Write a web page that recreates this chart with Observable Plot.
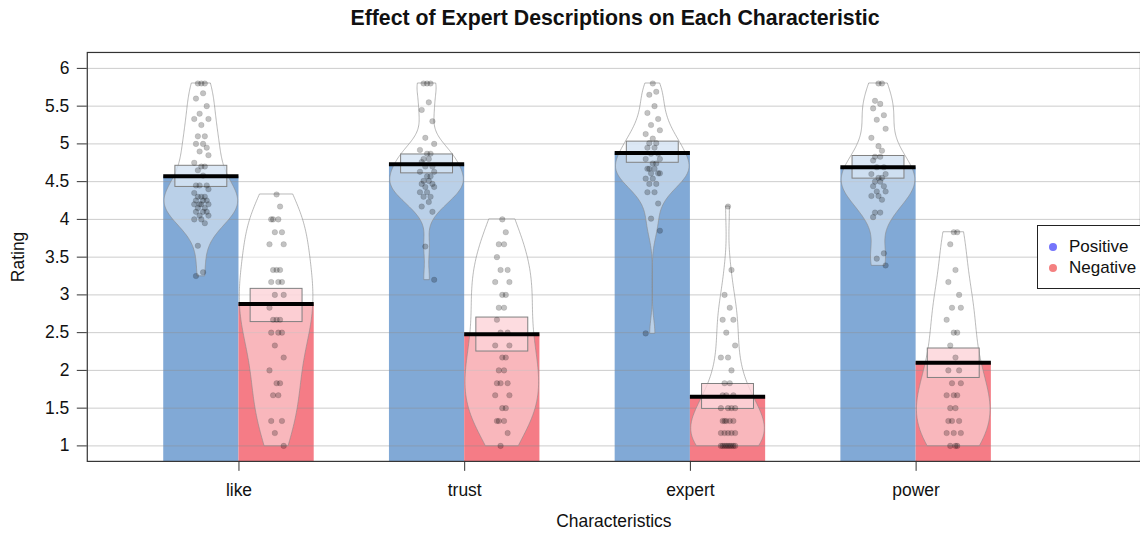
<!DOCTYPE html>
<html>
<head>
<meta charset="utf-8">
<script src="https://cdn.jsdelivr.net/npm/d3@7"></script>
<script src="https://cdn.jsdelivr.net/npm/@observablehq/plot@0.6"></script>
<style>
  html, body { margin: 0; padding: 0; background: #fff; overflow: hidden; }
  #wrap { position: relative; width: 1140px; height: 535px; overflow: hidden; font-family: "Liberation Sans", Arial, sans-serif; }
  #title { position: absolute; top: 0; left: 87px; width: 1056px; height: 40px; line-height: 37px; text-align: center; font-weight: bold; font-size: 21.3px; color: #111; }
  #chart { position: absolute; top: 40px; left: 0; }
  #legend { position: absolute; left: 1037px; top: 225px; width: 120px; height: 62px; border: 1px solid #222; background: #fff; font-size: 17px; color: #111; }
  #legend .row { position: absolute; left: 0; height: 20px; line-height: 20px; }
  #legend .dot { position: absolute; left: 11px; top: 6px; width: 8px; height: 8px; border-radius: 50%; }
  #legend .lab { position: absolute; left: 31px; top: 0; white-space: nowrap; }
</style>
</head>
<body>
<div id="wrap">
  <div id="title">Effect of Expert Descriptions on Each Characteristic</div>
  <div id="chart"></div>
  <div id="legend"></div>
</div>
<script>
// ---- data ----
const categories = ["like", "trust", "expert", "power"];
const conditions = ["Positive", "Negative"];
const barColors = ["#81a9d6", "#f57c86"];
const legendColors = ["#7474fb", "#f48080"];

const posMean = [4.57, 4.73, 4.88, 4.69];
const negMean = [2.88, 2.48, 1.65, 2.10];
const posLo = [4.43, 4.61, 4.75, 4.54];
const posHi = [4.71, 4.86, 5.03, 4.84];
const negLo = [2.64, 2.25, 1.49, 1.90];
const negHi = [3.08, 2.70, 1.82, 2.29];

const likePos = [5.8,5.8,5.8,5.67,5.6,5.5,5.4,5.33,5.33,5.25,5.1,5.1,5.0,5.0,4.95,4.9,4.85,4.75,4.7,4.7,4.65,4.58,
  4.45,4.45,4.45,4.4,4.35,4.3,4.3,4.3,4.25,4.25,4.25,4.2,4.2,4.2,4.2,4.15,4.15,4.1,4.1,4.1,4.05,4.05,4.0,4.0,3.95,3.65,3.3,3.25];
const likeNeg = [4.33,4.17,4.0,4.0,4.0,3.83,3.83,3.67,3.67,3.33,3.33,3.33,3.17,3.17,3.17,3.0,3.0,2.83,2.67,2.67,2.67,
  2.5,2.5,2.5,2.33,2.17,2.0,1.83,1.83,1.67,1.67,1.33,1.33,1.17,1.0];
const trustPos = [5.8,5.8,5.8,5.55,5.45,5.3,5.08,5.0,4.92,4.87,4.87,4.8,4.8,4.76,4.7,4.7,4.63,4.63,4.57,4.57,4.51,4.51,
  4.47,4.47,4.43,4.43,4.36,4.36,4.3,4.3,4.23,4.17,4.1,3.64,3.2];
const trustNeg = [4.0,3.83,3.67,3.67,3.5,3.33,3.33,3.17,3.17,3.0,3.0,2.83,2.83,2.67,2.5,2.5,2.33,2.33,2.17,2.17,
  2.0,2.0,1.83,1.83,1.83,1.67,1.67,1.5,1.5,1.33,1.33,1.33,1.17,1.0];
const expertPos = [5.8,5.69,5.65,5.5,5.41,5.33,5.25,5.18,5.13,5.07,5.01,5.01,4.95,4.95,4.87,4.87,4.8,4.8,4.74,4.74,
  4.67,4.67,4.67,4.61,4.61,4.61,4.54,4.54,4.47,4.47,4.36,4.36,4.21,4.01,3.85,2.49];
const expertNeg = [4.17,3.33,3.0,2.83,2.67,2.67,2.5,2.33,2.17,2.17,2.0,1.83,1.83,1.67,1.67,1.67,1.5,1.5,1.5,1.5,
  1.33,1.33,1.33,1.33,1.33,1.17,1.17,1.17,1.17,1.17,1.0,1.0,1.0,1.0,1.0,1.0,1.0,1.0,1.0];
const powerPos = [5.8,5.8,5.57,5.53,5.47,5.38,5.32,5.2,5.08,4.97,4.91,4.83,4.83,4.78,4.69,4.69,4.6,4.6,4.55,4.55,
  4.5,4.5,4.44,4.44,4.37,4.37,4.31,4.31,4.26,4.09,4.09,4.03,3.55,3.48,3.39];
const powerNeg = [3.83,3.83,3.67,3.33,3.17,3.0,2.83,2.83,2.67,2.5,2.5,2.33,2.17,2.0,2.0,1.83,1.83,1.67,1.67,1.67,
  1.5,1.5,1.33,1.33,1.33,1.17,1.17,1.17,1.0,1.0,1.0];

const rawPos = [likePos, trustPos, expertPos, powerPos];
const rawNeg = [likeNeg, trustNeg, expertNeg, powerNeg];

const yTicks = [1, 1.5, 2, 2.5, 3, 3.5, 4, 4.5, 5, 5.5, 6];
const xTicks = [1, 2, 3, 4];

// ---- layout constants (styling only) ----
const half = 1 / 6;          // bean offset from group centre & bar half width
const violinHalf = 0.163;    // max half width of a bean
const boxHalf = 0.115;       // half width of the inference box

// ---- build tables ----
const beans = [];
categories.forEach((cat, i) => {
  [0, 1].forEach(k => {
    const c = (i + 1) + (k === 0 ? -half : half);
    beans.push({
      cat, cond: conditions[k], k, c,
      mean: k === 0 ? posMean[i] : negMean[i],
      lo: k === 0 ? posLo[i] : negLo[i],
      hi: k === 0 ? posHi[i] : negHi[i],
      raw: k === 0 ? rawPos[i] : rawNeg[i]
    });
  });
});

// kernel density (R's nrd0 bandwidth), trimmed to the data range
function density(values) {
  const v = values.slice().sort(d3.ascending);
  const sd = d3.deviation(v);
  const iqr = d3.quantile(v, 0.75) - d3.quantile(v, 0.25);
  const bw = 0.9 * Math.min(sd, iqr / 1.34) * Math.pow(v.length, -0.2);
  const lo = v[0], hi = v[v.length - 1];
  const n = 160;
  return d3.range(n + 1).map(j => {
    const y = lo + (hi - lo) * j / n;
    return { y, d: d3.sum(v, x => Math.exp(-0.5 * ((y - x) / bw) ** 2)) };
  });
}

const violins = [];
const points = [];
const jit = [0, 0.022, -0.022, 0.011, -0.034, 0.034, -0.011, 0.045, -0.045];
beans.forEach((b, bi) => {
  const dens = density(b.raw);
  const m = d3.max(dens, d => d.d);
  dens.forEach(d => {
    const w = violinHalf * d.d / m;
    violins.push({ key: bi, y: d.y, x1: b.c - w, x2: b.c + w });
  });
  b.raw.forEach((v, j) => points.push({ key: bi, x: b.c + jit[j % jit.length] * 0.7, y: v }));
});

const chart = Plot.plot({
  width: 1143,
  height: 495,
  marginTop: 12,
  marginBottom: 73,
  marginLeft: 87,
  marginRight: 0,
  style: { fontFamily: "Liberation Sans, Arial, sans-serif", fontSize: "17.5px", color: "#111", background: "transparent" },
  x: { type: "linear", domain: [0.328, 4.994] },
  y: { domain: [0.795, 6.211] },
  marks: [
    Plot.rect(beans, { x1: d => d.c - half, x2: d => d.c + half, y1: () => 0, y2: "mean", fill: d => barColors[d.k], clip: true }),
    Plot.gridY(yTicks, { stroke: "#8c8c8c", strokeOpacity: 0.45, strokeWidth: 1 }),
    Plot.areaX(violins, { y: "y", x1: "x1", x2: "x2", z: "key", fill: "white", fillOpacity: 0.45, stroke: "#8a8a8a", strokeOpacity: 0.75, strokeWidth: 0.8 }),
    Plot.rect(beans, { x1: d => d.c - boxHalf, x2: d => d.c + boxHalf, y1: "lo", y2: "hi",
      fill: d => d.k === 0 ? "#d3e2f3" : "#fcd3d8", fillOpacity: 0.8, stroke: "#808080", strokeWidth: 1 }),
    Plot.ruleY(beans, { y: "mean", x1: d => d.c - half, x2: d => d.c + half, stroke: "#000", strokeWidth: 4 }),
    Plot.dot(points, { x: "x", y: "y", r: 2.8, fill: "#000", fillOpacity: 0.24, stroke: "#000", strokeOpacity: 0.12, strokeWidth: 0.8 }),
    Plot.frame({ stroke: "#333", strokeWidth: 1.2 }),
    Plot.axisY(yTicks, { tickSize: 10, tickPadding: 8, tickFormat: d => String(d), label: "Rating", labelAnchor: "center", labelArrow: "none", labelOffset: 76, stroke: "#333" }),
    Plot.axisX(xTicks, { tickSize: 10, tickPadding: 12, tickFormat: d => categories[d - 1], label: "Characteristics", labelAnchor: "center", labelArrow: "none", labelOffset: 66, stroke: "#333" })
  ]
});
document.getElementById("chart").appendChild(chart);

// legend
const legend = document.getElementById("legend");
conditions.forEach((c, i) => {
  const row = document.createElement("div");
  row.className = "row";
  row.style.top = (11 + i * 21) + "px";
  row.innerHTML = `<span class="dot" style="background:${legendColors[i]}"></span><span class="lab">${c}</span>`;
  legend.appendChild(row);
});
</script>
</body>
</html>
